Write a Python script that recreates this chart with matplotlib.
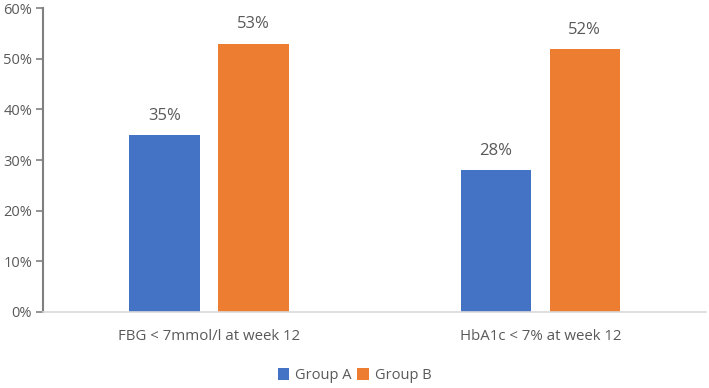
import matplotlib
matplotlib.use('Agg')
import matplotlib.pyplot as plt
import numpy as np

categories = ['FBG < 7mmol/l at week 12', 'HbA1c < 7% at week 12']
group_a = [35, 28]
group_b = [53, 52]
series_names = ['Group A', 'Group B']
yticks = [0, 10, 20, 30, 40, 50, 60]

plt.rcParams['font.family'] = ['Open Sans', 'DejaVu Sans']
text_col = '#595959'

fig = plt.figure(figsize=(7.09, 3.88), dpi=100)
ax = fig.add_axes([0.061, 0.196, 0.935, 0.783])

x = np.arange(len(categories))
w = 0.212
off = 0.134
bars_a = ax.bar(x - off, group_a, w, color='#4472C4', label=series_names[0])
bars_b = ax.bar(x + off, group_b, w, color='#ED7D31', label=series_names[1])

for bars in (bars_a, bars_b):
    for b in bars:
        ax.annotate('%d%%' % b.get_height(), (b.get_x() + b.get_width() / 2, b.get_height()),
                    xytext=(0, 8), textcoords='offset points', ha='center', va='bottom',
                    fontsize=12, color=text_col)

ax.set_xlim(-0.5, 1.5)
ax.set_ylim(0, 60)
ax.set_yticks(yticks)
ax.set_yticklabels(['%d%%' % v for v in yticks], fontsize=10.5, color=text_col)
ax.set_xticks(x)
ax.set_xticklabels(categories, fontsize=10.8, color=text_col)
ax.tick_params(axis='x', length=0, pad=12)
ax.tick_params(axis='y', length=5, width=1.2, color='#808080', pad=3)

for s in ('top', 'right'):
    ax.spines[s].set_visible(False)
ax.spines['left'].set_color('#808080')
ax.spines['left'].set_linewidth(1.5)
ax.spines['bottom'].set_color('#d9d9d9')
ax.spines['bottom'].set_linewidth(1.2)

fig.legend(loc='center', bbox_to_anchor=(0.5, 0.032), ncol=2, frameon=False,
           fontsize=10.5, labelcolor=text_col, handlelength=0.8, handleheight=0.8,
           handletextpad=0.4, columnspacing=0.4)

fig.savefig('out.png', dpi=100)
